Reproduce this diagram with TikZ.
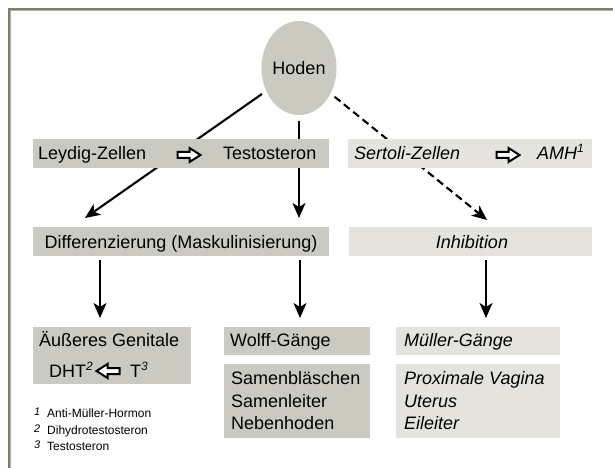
\documentclass[tikz,border=0pt]{standalone}
\usepackage{fontspec}
\setmainfont{Liberation Sans}
\usetikzlibrary{arrows.meta,shapes.geometric}

\definecolor{boxdark}{RGB}{203,202,193}
\definecolor{boxlight}{RGB}{228,227,222}
\definecolor{framedark}{RGB}{124,128,108}
\definecolor{framelight}{RGB}{176,178,166}

\newcommand{\mainsize}{\fontsize{18}{21.6}\selectfont}
\newcommand{\notesize}{\fontsize{12}{14}\selectfont}
\newcommand{\supnum}[1]{\raisebox{7pt}{\fontsize{12}{13}\selectfont\itshape #1}}

\begin{document}
\begin{tikzpicture}[x=1pt,y=-1pt,
  box/.style={rectangle, inner sep=0pt, outer sep=0pt, anchor=north west},
  darkbox/.style={box, fill=boxdark},
  lightbox/.style={box, fill=boxlight},
  label/.style={anchor=base west, inner sep=0pt, font=\mainsize},
  itlabel/.style={label, font=\mainsize\itshape},
  note/.style={anchor=base west, inner sep=0pt, font=\notesize},
  notenum/.style={anchor=base west, inner sep=0pt, font=\fontsize{11}{12}\selectfont\itshape},
  conn/.style={line width=2.1pt, -{Stealth[length=15pt,width=13pt,inset=4pt]}},
  dashconn/.style={conn, dash pattern=on 7.5pt off 4.5pt},
  hollow/.style={draw=black, fill=white, line width=2pt, line join=miter},
  rarrow/.pic={\draw[hollow] (-11.5,-3) -- (0.5,-3) -- (0.5,-7) -- (11.5,0)
                 -- (0.5,7) -- (0.5,3) -- (-11.5,3) -- cycle;}
]
\useasboundingbox (0,0) rectangle (613,468);

% frame along the top and left edges
\draw[framedark, line width=2.2pt] (9,468) -- (9,9) -- (613,9);
\draw[framelight, line width=1.2pt] (10.7,468) -- (10.7,10.7) -- (613,10.7);

% testis
\node[ellipse, fill=boxdark, minimum width=72pt, minimum height=94pt,
      inner sep=0pt, font=\mainsize] (hoden) at (299,68) {Hoden};

% arrow ends above the second row
\coordinate (ltip) at (85,218);
\coordinate (mtip) at (299,218);
\coordinate (rtip) at (487,220);

% connectors from the testis (the bars of the first row lie on top of them)
\draw[conn, shorten <=5pt] (hoden) -- (ltip);
\draw[conn, shorten <=6pt] (hoden) -- (mtip);
\draw[dashconn, shorten <=5pt] (hoden) -- (rtip);

% first row
\node[darkbox, minimum width=296pt, minimum height=29pt] (leydigbar) at (33,139) {};
\node[lightbox, minimum width=244pt, minimum height=29pt] (sertolibar) at (348,139) {};
\node[label] (leydig) at (38,160) {Leydig-Zellen};
\pic at (189,155) {rarrow};
\node[label] (testo) at (223,160) {Testosteron};
\node[itlabel] (sertoli) at (354,160) {Sertoli-Zellen};
\pic at (508,155) {rarrow};
\node[itlabel] (amh) at (537,160) {AMH\supnum{1}};

% second row
\node[darkbox, minimum width=296pt, minimum height=29pt] (diff) at (33,227) {};
\node[label, anchor=base] (difftext) at (181,248) {Differenzierung (Maskulinisierung)};
\node[lightbox, minimum width=243pt, minimum height=29pt] (inhib) at (349,227) {};
\node[itlabel, anchor=base] (inhibtext) at (472,248) {Inhibition};

% third row
\node[darkbox, minimum width=158pt, minimum height=57pt] (aeuss) at (33,327) {};
\node[label] (aeusstext) at (39,346) {Äußeres Genitale};
\node[label] (dht) at (49,377) {DHT\supnum{2}};
\pic[xscale=-1] at (108,371) {rarrow};
\node[label] (tst) at (130,377) {T\supnum{3}};

\node[darkbox, minimum width=146pt, minimum height=28pt] (wolff) at (224,327) {};
\node[label] (wolfftext) at (230,346) {Wolff-Gänge};
\node[darkbox, minimum width=146pt, minimum height=74pt] (samen) at (224,364) {};
\node[label] (samen1) at (231,384) {Samenbläschen};
\node[label] (samen2) at (231,407) {Samenleiter};
\node[label] (samen3) at (231,429) {Nebenhoden};

\node[lightbox, minimum width=164pt, minimum height=28pt] (mueller) at (396,327) {};
\node[itlabel] (muellertext) at (404,346) {Müller-Gänge};
\node[lightbox, minimum width=164pt, minimum height=74pt] (prox) at (396,364) {};
\node[itlabel] (prox1) at (404,384) {Proximale Vagina};
\node[itlabel] (prox2) at (404,407) {Uterus};
\node[itlabel] (prox3) at (404,429) {Eileiter};

% arrows from the second row to the third
\coordinate (c1) at (100,0);
\coordinate (c2) at (300,0);
\coordinate (c3) at (486,0);
\draw[conn, shorten <=4pt, shorten >=9pt] (diff.south -| c1) -- (aeuss.north -| c1);
\draw[conn, shorten <=4pt, shorten >=9pt] (diff.south -| c2) -- (wolff.north -| c2);
\draw[conn, shorten <=4pt, shorten >=9pt] (inhib.south -| c3) -- (mueller.north -| c3);

% footnotes
\node[notenum] (n1) at (34,415.5) {1};
\node[note] (f1) at (47,417.5) {Anti-Müller-Hormon};
\node[notenum] (n2) at (34,432) {2};
\node[note] (f2) at (47,434) {Dihydrotestosteron};
\node[notenum] (n3) at (34,448) {3};
\node[note] (f3) at (47,450) {Testosteron};
\end{tikzpicture}
\end{document}
